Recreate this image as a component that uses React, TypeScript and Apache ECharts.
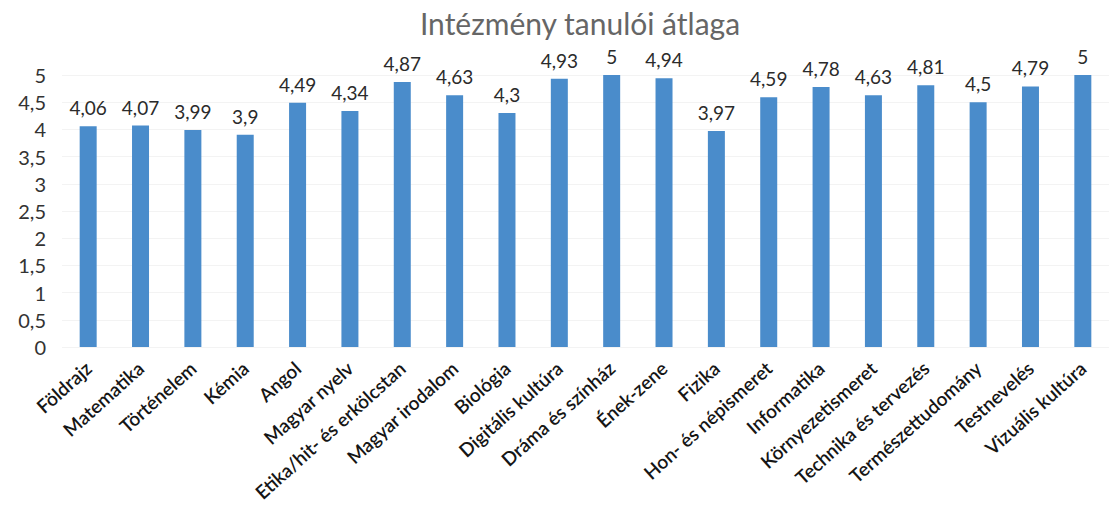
import React, { useEffect, useRef } from "react";
import * as echarts from "echarts";

const categories = [
  "Földrajz",
  "Matematika",
  "Történelem",
  "Kémia",
  "Angol",
  "Magyar nyelv",
  "Etika/hit- és erkölcstan",
  "Magyar irodalom",
  "Biológia",
  "Digitális kultúra",
  "Dráma és színház",
  "Ének-zene",
  "Fizika",
  "Hon- és népismeret",
  "Informatika",
  "Környezetismeret",
  "Technika és tervezés",
  "Természettudomány",
  "Testnevelés",
  "Vizuális kultúra",
];

const averages = [
  4.06, 4.07, 3.99, 3.9, 4.49, 4.34, 4.87, 4.63, 4.3, 4.93, 5, 4.94, 3.97, 4.59,
  4.78, 4.63, 4.81, 4.5, 4.79, 5,
];

const titleText = "Intézmény tanulói átlaga";

const fmt = (v: number) => String(v).replace(".", ",");

export default function App() {
  const ref = useRef<HTMLDivElement>(null);
  useEffect(() => {
    if (!ref.current) return;
    const chart = echarts.init(ref.current, null, { renderer: "svg" });
    chart.setOption({
      animation: false,
      backgroundColor: "#ffffff",
      title: {
        text: titleText,
        left: 575,
        textAlign: "center",
        top: 3,
        textStyle: {
          fontFamily: "Lato",
          fontWeight: "normal",
          fontSize: 30,
          color: "#666666",
        },
      },
      grid: { left: 62, right: -14, top: 75, bottom: 181, containLabel: false },
      xAxis: {
        type: "category",
        data: categories,
        axisLine: { show: false },
        axisTick: { show: false },
        axisLabel: {
          interval: 0,
          rotate: 42,
          margin: 18,
          fontFamily: "Lato",
          fontSize: 19,
          fontWeight: 600,
          color: "#151515",
        },
      },
      yAxis: {
        type: "value",
        min: 0,
        max: 5,
        interval: 0.5,
        axisLine: { show: false },
        axisTick: { show: false },
        splitLine: { show: true, lineStyle: { color: "#f3f3f3", width: 1 } },
        axisLabel: {
          formatter: (v: number) => fmt(v),
          fontFamily: "Lato",
          fontSize: 20,
          color: "#333333",
          margin: 16,
        },
      },
      series: [
        {
          type: "bar",
          data: averages,
          barWidth: 17,
          itemStyle: { color: "#4a8ccb" },
          label: {
            show: true,
            position: "top",
            distance: 9,
            formatter: (p: any) => fmt(p.value),
            fontFamily: "Lato",
            fontSize: 19,
            color: "#2b2b2b",
          },
        },
      ],
    });
    return () => chart.dispose();
  }, []);
  return (
    <div
      ref={ref}
      style={{ position: "fixed", left: 0, top: 0, width: 1109, height: 528 }}
    />
  );
}
